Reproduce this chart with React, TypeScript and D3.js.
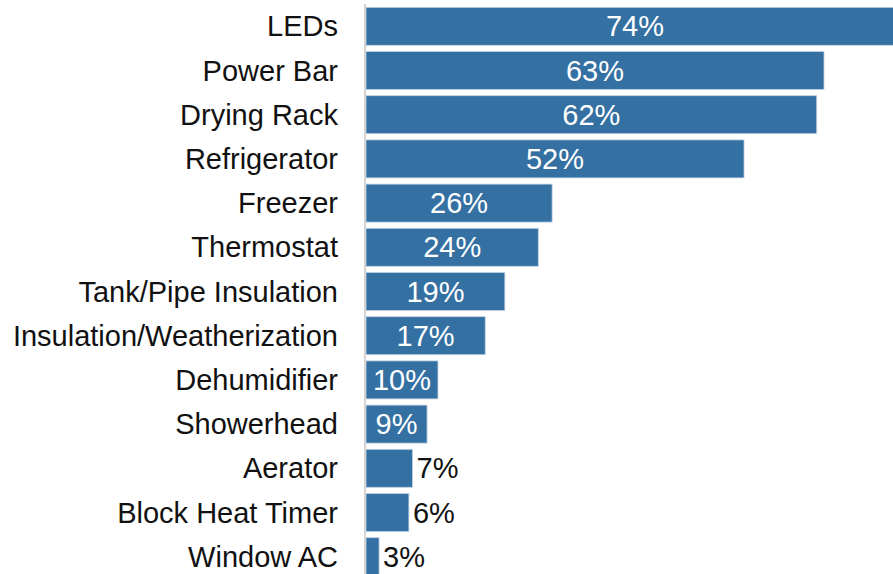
// @ts-nocheck
import { useRef, useEffect } from "react";
import * as d3 from "d3";

const categories = [
  "LEDs",
  "Power Bar",
  "Drying Rack",
  "Refrigerator",
  "Freezer",
  "Thermostat",
  "Tank/Pipe Insulation",
  "Insulation/Weatherization",
  "Dehumidifier",
  "Showerhead",
  "Aerator",
  "Block Heat Timer",
  "Window AC",
];
// bar lengths (%)
const values = [74, 63, 62, 52, 25.6, 23.7, 19.1, 16.4, 9.9, 8.4, 6.4, 5.9, 1.8];
const valueLabels = ["74%", "63%", "62%", "52%", "26%", "24%", "19%", "17%", "10%", "9%", "7%", "6%", "3%"];

const BarChart = ({ width = 893, height = 574 }) => {
  const svgRef = useRef();

  useEffect(() => {
    const svg = d3.select(svgRef.current);
    svg.selectAll("*").remove();

    const font = "'Liberation Sans', Arial, sans-serif";
    const x0 = 366;

    const x = d3.scaleLinear().domain([0, 100]).range([x0, x0 + 727]);

    const y = d3
      .scaleBand()
      .domain(categories)
      .range([4.2, 4.2 + 13 * 44.2])
      .paddingInner(0.14)
      .paddingOuter(0.07);

    const data = categories.map((c, i) => ({ c, v: values[i], label: valueLabels[i] }));
    const inside = (d) => x(d.v) - x(0) > 50;

    svg.attr("width", width).attr("height", height);

    svg
      .selectAll(".bar")
      .data(data)
      .enter()
      .append("rect")
      .attr("class", "bar")
      .attr("x", x(0))
      .attr("y", (d) => y(d.c))
      .attr("width", (d) => x(d.v) - x(0))
      .attr("height", y.bandwidth())
      .attr("fill", "#3570a3")
      .attr("stroke", "#c3d4e4")
      .attr("stroke-width", 0.8);

    // axis line
    svg
      .append("line")
      .attr("x1", x0 - 1)
      .attr("x2", x0 - 1)
      .attr("y1", 4)
      .attr("y2", height)
      .attr("stroke", "#d4d4d4")
      .attr("stroke-width", 2);

    // category labels
    svg
      .selectAll(".cat")
      .data(data)
      .enter()
      .append("text")
      .attr("x", 338)
      .attr("y", (d) => y(d.c) + y.bandwidth() / 2)
      .attr("dy", "0.35em")
      .attr("text-anchor", "end")
      .attr("font-family", font)
      .attr("font-size", 29)
      .attr("fill", "#111")
      .text((d) => d.c);

    // value labels
    svg
      .selectAll(".val")
      .data(data)
      .enter()
      .append("text")
      .attr("x", (d) => (inside(d) ? (x(0) + x(d.v)) / 2 : x(d.v) + 4))
      .attr("y", (d) => y(d.c) + y.bandwidth() / 2)
      .attr("dy", "0.35em")
      .attr("text-anchor", (d) => (inside(d) ? "middle" : "start"))
      .attr("font-family", font)
      .attr("font-size", 29)
      .attr("fill", (d) => (inside(d) ? "#fff" : "#111"))
      .text((d) => d.label);
  }, []);

  return <svg ref={svgRef} style={{ position: "absolute", left: 0, top: 0 }}></svg>;
};

export default function App() {
  return <BarChart />;
}
